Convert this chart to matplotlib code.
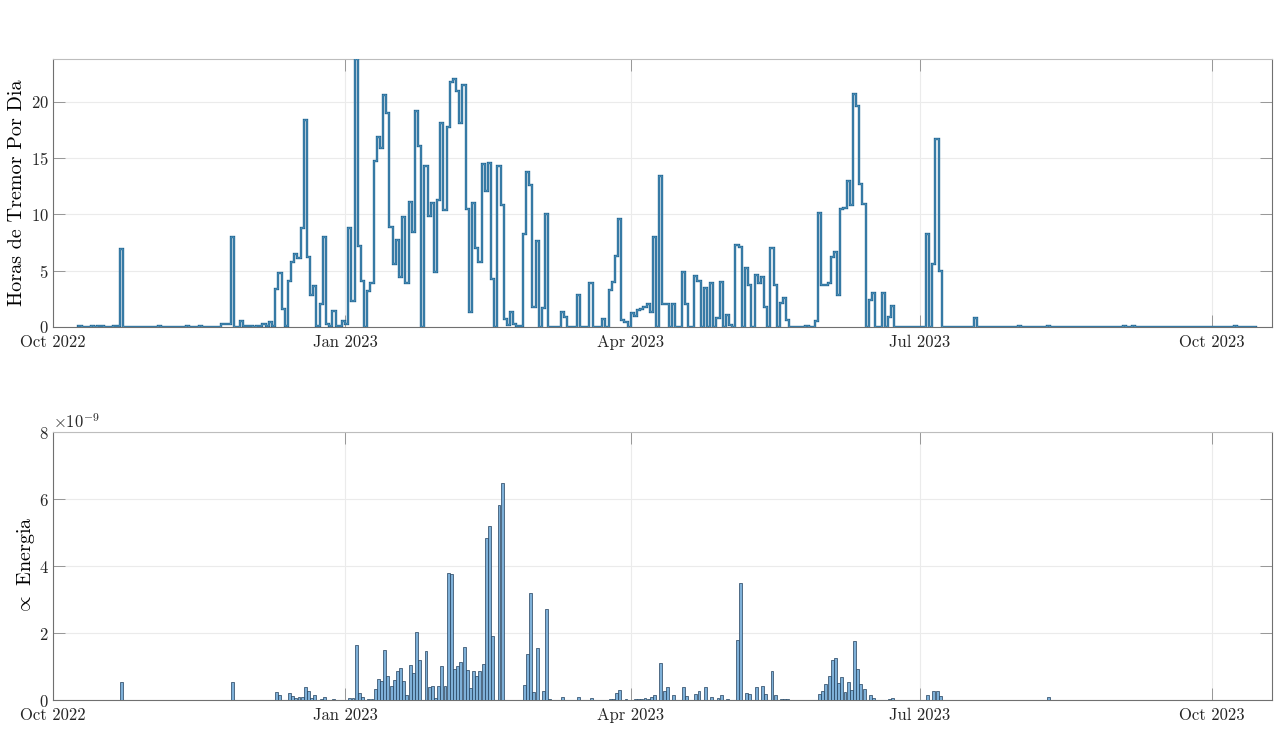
import numpy as np
import matplotlib
matplotlib.use("Agg")
import matplotlib.pyplot as plt
import matplotlib.dates as mdates
from matplotlib.ticker import ScalarFormatter, FixedLocator

# ---------------- data ----------------
hours_start = "2022-10-09"   # first day of the daily tremor-hours series
hours_oct22 = [0.05, 0.03, 0.03, 0.02, 0.05, 0.03, 0.1, 0.05, 0.03, 0.02, 0.03, 0.05, 0.05,
               6.9, 0.03, 0.02, 0.02, 0.02, 0.02, 0.02, 0.02, 0.02, 0.02]
hours_nov22 = [0.02, 0.02, 0.05, 0.02, 0.02, 0.02, 0.02, 0.02, 0.02, 0.02, 0.02, 0.05, 0.02,
               0.02, 0.02, 0.05, 0.02, 0.02, 0.02, 0.02, 0.02, 0.02, 0.25, 0.25, 0.25, 8.0,
               0.02, 0.02, 0.5, 0.05]
hours_dec22 = [0.05, 0.05, 0.02, 0.05, 0.05, 0.3, 0.1, 0.45, 0.1, 3.4, 4.8, 1.6, 0.1, 4.1,
               5.8, 6.5, 6.1, 8.8, 18.4, 6.2, 2.8, 3.6, 0.1, 2.0, 8.0, 0.3, 0.1, 1.4, 0.1,
               0.1, 0.5]
hours_jan23 = [0.3, 8.8, 2.3, 23.8, 7.2, 4.1, 0, 3.2, 3.9, 14.7, 16.9, 15.9, 20.6, 19.0,
               8.9, 5.6, 7.7, 4.4, 9.8, 3.9, 11.1, 8.4, 19.2, 16.1, 0, 14.3, 9.9, 11.0,
               4.85, 11.3, 18.1]
hours_feb23 = [10.4, 17.8, 21.8, 22.0, 21.0, 18.1, 21.5, 10.5, 1.3, 11.0, 7.0, 5.8, 14.5,
               12.1, 14.6, 4.3, 0, 14.3, 10.8, 0.7, 0.2, 1.3, 0.3, 0.05, 0.05, 8.3, 13.8, 12.6]
hours_mar23 = [1.8, 7.6, 0, 1.7, 10.0, 0, 0, 0, 0, 1.3, 0.9, 0, 0, 0, 2.8, 0, 0, 0, 3.9,
               0, 0, 0, 0.7, 0, 3.3, 4.0, 6.3, 9.6, 0.6, 0.4, 0]
hours_apr23 = [1.2, 1.0, 1.5, 1.6, 1.8, 2.0, 1.3, 8.0, 0, 13.4, 2.0, 2.0, 0, 2.0, 0, 0,
               4.85, 2.0, 0, 0, 4.5, 4.1, 0, 3.5, 0, 3.9, 0, 0.8, 4.0, 0]
hours_may23 = [1.1, 0.2, 0, 7.3, 7.1, 0, 5.2, 3.75, 0, 4.6, 3.9, 4.4, 1.8, 0, 7.0, 3.7, 0,
               2.1, 2.6, 0.6, 0, 0, 0, 0, 0, 0.1, 0, 0, 0.5, 10.1, 3.75]
hours_jun23 = [3.75, 3.9, 6.25, 6.7, 2.8, 10.5, 10.6, 13.0, 10.8, 20.7, 19.6, 12.7, 10.9, 0,
               2.4, 3.0, 0, 0, 3.0, 0, 0.9, 1.85, 0, 0, 0, 0, 0, 0, 0, 0]
hours_jul23 = [0, 0, 8.3, 0, 5.6, 16.7, 5.0, 0, 0, 0, 0, 0, 0, 0, 0, 0, 0, 0.8, 0, 0, 0,
               0, 0, 0, 0, 0, 0, 0, 0, 0, 0]
hours_aug23 = [0.1, 0.02, 0.02, 0.02, 0.02, 0.02, 0.02, 0.02, 0.02, 0.05, 0.02, 0.02, 0.02,
               0.02, 0.02, 0.02, 0.02, 0.02, 0.02, 0.02, 0.02, 0.02, 0.02, 0.02, 0.02, 0.02,
               0.02, 0.02, 0.02, 0.02, 0.02]
hours_sep23 = [0.02, 0.02, 0.05, 0.02, 0.02, 0.05, 0.02, 0.02, 0.02, 0.02, 0.02, 0.02, 0.02,
               0.02, 0.02, 0.02, 0.02, 0.02, 0.02, 0.02, 0.02, 0.02, 0.02, 0.02, 0.02, 0.02,
               0.02, 0.02, 0.02, 0.02]
hours_oct23 = [0.02, 0.02, 0.02, 0.02, 0.02, 0.02, 0.02, 0.05, 0.02, 0.02, 0.02, 0.02, 0.02,
               0.02]

energy_dates = ["2022-10-22", "2022-11-26", "2022-12-10", "2022-12-11", "2022-12-14",
                "2022-12-15", "2022-12-16", "2022-12-17", "2022-12-18", "2022-12-19",
                "2022-12-20", "2022-12-21", "2022-12-22", "2022-12-24", "2022-12-25",
                "2022-12-28", "2023-01-02", "2023-01-03", "2023-01-04", "2023-01-05",
                "2023-01-06", "2023-01-08", "2023-01-09", "2023-01-10", "2023-01-11",
                "2023-01-12", "2023-01-13", "2023-01-14", "2023-01-15", "2023-01-16",
                "2023-01-17", "2023-01-18", "2023-01-19", "2023-01-20", "2023-01-21",
                "2023-01-22", "2023-01-23", "2023-01-24", "2023-01-26", "2023-01-27",
                "2023-01-28", "2023-01-29", "2023-01-30", "2023-01-31", "2023-02-01",
                "2023-02-02", "2023-02-03", "2023-02-04", "2023-02-05", "2023-02-06",
                "2023-02-07", "2023-02-08", "2023-02-09", "2023-02-10", "2023-02-11",
                "2023-02-12", "2023-02-13", "2023-02-14", "2023-02-15", "2023-02-16",
                "2023-02-18", "2023-02-19", "2023-02-26", "2023-02-27", "2023-02-28",
                "2023-03-01", "2023-03-02", "2023-03-04", "2023-03-05", "2023-03-06",
                "2023-03-10", "2023-03-15", "2023-03-19", "2023-03-25", "2023-03-26",
                "2023-03-27", "2023-03-28", "2023-03-30", "2023-04-02", "2023-04-03",
                "2023-04-04", "2023-04-05", "2023-04-06", "2023-04-07", "2023-04-08",
                "2023-04-10", "2023-04-11", "2023-04-12", "2023-04-14", "2023-04-17",
                "2023-04-18", "2023-04-21", "2023-04-22", "2023-04-24", "2023-04-26",
                "2023-04-28", "2023-04-29", "2023-05-01", "2023-05-04", "2023-05-05",
                "2023-05-07", "2023-05-08", "2023-05-10", "2023-05-12", "2023-05-13",
                "2023-05-15", "2023-05-16", "2023-05-18", "2023-05-19", "2023-05-20",
                "2023-05-30", "2023-05-31", "2023-06-01", "2023-06-02", "2023-06-03",
                "2023-06-04", "2023-06-05", "2023-06-06", "2023-06-07", "2023-06-08",
                "2023-06-09", "2023-06-10", "2023-06-11", "2023-06-12", "2023-06-13",
                "2023-06-15", "2023-06-16", "2023-06-21", "2023-06-22", "2023-07-03",
                "2023-07-05", "2023-07-06", "2023-07-07", "2023-08-10"]
energy_e9 = [0.53, 0.53, 0.23, 0.14, 0.2,
             0.13, 0.05, 0.09, 0.1, 0.38,
             0.26, 0.05, 0.14, 0.03, 0.1,
             0.03, 0.05, 0.05, 1.63, 0.2,
             0.1, 0.02, 0.03, 0.32, 0.62,
             0.57, 1.5, 0.71, 0.42, 0.59,
             0.86, 0.96, 0.58, 0.15, 1.04,
             0.8, 2.02, 1.19, 1.45, 0.38,
             0.42, 0.07, 0.42, 1.02, 0.42,
             3.78, 3.76, 0.92, 1.03, 1.13,
             1.57, 0.89, 0.35, 0.86, 0.72,
             0.87, 1.07, 4.83, 5.18, 1.9,
             5.82, 6.47, 0.45, 1.37, 3.19,
             0.24, 1.54, 0.27, 2.71, 0.02,
             0.08, 0.08, 0.05, 0.03, 0.03,
             0.2, 0.29, 0.02, 0.02, 0.02,
             0.04, 0.05, 0.03, 0.1, 0.15,
             1.1, 0.28, 0.38, 0.14, 0.38,
             0.12, 0.17, 0.26, 0.38, 0.08,
             0.07, 0.14, 0.03, 1.79, 3.49,
             0.2, 0.17, 0.38, 0.43, 0.18,
             0.88, 0.14, 0.03, 0.04, 0.04,
             0.17, 0.26, 0.48, 0.72, 1.2,
             1.25, 0.52, 0.68, 0.23, 0.53,
             0.3, 1.76, 0.92, 0.48, 0.32,
             0.14, 0.05, 0.03, 0.05, 0.14,
             0.26, 0.26, 0.11, 0.1]

tick_dates = ["2022-10-01", "2023-01-01", "2023-04-01", "2023-07-01", "2023-10-01"]
tick_labels = ["Oct 2022", "Jan 2023", "Apr 2023", "Jul 2023", "Oct 2023"]
x_range = ["2022-10-01", "2023-10-20"]

# ---------------- style ----------------
plt.rcParams["font.family"] = ["cmr10", "DejaVu Serif"]
plt.rcParams["mathtext.fontset"] = "cm"
plt.rcParams["axes.formatter.use_mathtext"] = True
plt.rcParams["axes.unicode_minus"] = False

hours = np.array(hours_oct22 + hours_nov22 + hours_dec22 + hours_jan23 + hours_feb23 +
                 hours_mar23 + hours_apr23 + hours_may23 + hours_jun23 + hours_jul23 +
                 hours_aug23 + hours_sep23 + hours_oct23)
edges = mdates.date2num(np.datetime64(hours_start) + np.arange(len(hours) + 1))
e_x = mdates.date2num(np.array(energy_dates, dtype="datetime64[D]")) + 0.5
e_y = np.array(energy_e9) * 1e-9

fig = plt.figure(figsize=(12.83, 7.32), dpi=100)
ax1 = fig.add_axes([0.0413, 0.5533, 0.9501, 0.3661])
ax2 = fig.add_axes([0.0413, 0.0437, 0.9501, 0.3661])

ax1.step(edges, np.append(hours, hours[-1]), where="post", color="#216491", lw=1.7,
         zorder=3, solid_joinstyle="miter")
ax1.step(edges, np.append(hours, hours[-1]), where="post", color="#78c2e4", lw=0.35,
         zorder=4, solid_joinstyle="miter")
ax1.set_ylim(0, hours.max())
ax1.yaxis.set_major_locator(FixedLocator([0, 5, 10, 15, 20]))
ax1.set_ylabel("Horas de Tremor Por Dia", fontsize=14.5)
ax1.yaxis.set_label_coords(-0.022, 0.5)

ax2.bar(e_x, e_y, width=0.92, color="#7eb0d8", edgecolor="#22405c", linewidth=0.5,
        zorder=3)
ax2.set_ylim(0, 8e-9)
ax2.yaxis.set_major_locator(FixedLocator([0, 2e-9, 4e-9, 6e-9, 8e-9]))
fmt = ScalarFormatter(useMathText=True)
fmt.set_powerlimits((0, 0))
ax2.yaxis.set_major_formatter(fmt)
ax2.yaxis.get_offset_text().set_fontsize(12)
ax2.set_ylabel(r"$\propto$ Energia", fontsize=14.5)
ax2.yaxis.set_label_coords(-0.0135, 0.5)

xt = mdates.date2num(np.array(tick_dates, dtype="datetime64[D]"))
xl = mdates.date2num(np.array(x_range, dtype="datetime64[D]"))
for ax in (ax1, ax2):
    ax.set_xlim(xl[0], xl[1])
    ax.set_xticks(xt)
    ax.set_xticklabels(tick_labels)
    ax.grid(True, color="#ebebeb", lw=0.8, zorder=0)
    ax.set_axisbelow(True)
    ax.tick_params(direction="in", length=8.5, width=0.6, colors="#8a8a8a",
                   labelcolor="#262626", labelsize=12, top=True, right=True)
    ax.tick_params(axis="y", pad=3)
    ax.tick_params(axis="x", pad=5.5)
    for s in ("left", "bottom", "right"):
        ax.spines[s].set_color("#707070")
        ax.spines[s].set_linewidth(0.8)
    ax.spines["top"].set_color("#bdbdbd")
    ax.spines["top"].set_linewidth(0.8)

fig.savefig("out.png", dpi=100, facecolor="white")
